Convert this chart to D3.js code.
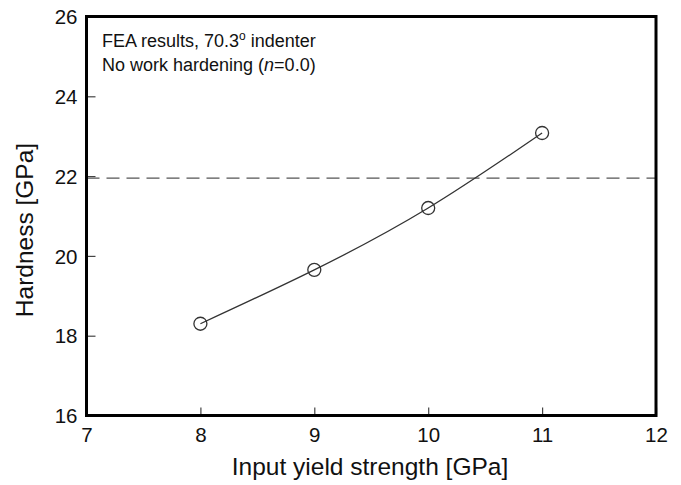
<!DOCTYPE html>
<html>
<head>
<meta charset="utf-8">
<script src="https://cdn.jsdelivr.net/npm/d3@7"></script>
<style>
  html, body { margin: 0; padding: 0; background: #fff; }
  svg { display: block; font-family: Arial, "Liberation Sans", sans-serif; }
</style>
</head>
<body>
<svg id="chart" width="681" height="485"></svg>
<script>
// Input yield strength (GPa) and FEA hardness (GPa)
const yieldStrength = [8, 9, 10, 11];
const hardness = [18.3, 19.65, 21.2, 23.08];
const referenceHardness = 21.95;

const xTicks = [7, 8, 9, 10, 11, 12];
const yTicks = [16, 18, 20, 22, 24, 26];

const W = 681, H = 485;
const plot = { left: 86.5, right: 656, top: 16.5, bottom: 415.5 };

const svg = d3.select("#chart");

const x = d3.scaleLinear().domain([7, 12]).range([plot.left, plot.right]);
const y = d3.scaleLinear().domain([16, 26]).range([plot.bottom, plot.top]);

// Inward ticks along bottom and left
const xAxis = svg.append("g")
  .attr("transform", `translate(0,${plot.bottom})`)
  .call(d3.axisBottom(x).tickValues(xTicks).tickSize(-8).tickPadding(12).tickFormat(d3.format("d")));
const yAxis = svg.append("g")
  .attr("transform", `translate(${plot.left},0)`)
  .call(d3.axisLeft(y).tickValues(yTicks).tickSize(-9).tickPadding(9).tickFormat(d3.format("d")));

[xAxis, yAxis].forEach(g => {
  g.select(".domain").remove();
  g.selectAll(".tick line").attr("stroke", "#444").attr("stroke-width", 1.2);
  g.selectAll(".tick text").attr("fill", "#111").style("font-size", "20.5px");
});
xAxis.selectAll(".tick text").attr("dy", "0.71em");
yAxis.selectAll(".tick text").attr("dy", "0.35em");

// Dashed reference level
svg.append("line")
  .attr("x1", plot.left).attr("x2", plot.right)
  .attr("y1", y(referenceHardness)).attr("y2", y(referenceHardness))
  .attr("stroke", "#555").attr("stroke-width", 1.3)
  .attr("stroke-dasharray", "13,7");

// Hardness curve
const pts = yieldStrength.map((v, i) => [v, hardness[i]]);
svg.append("path")
  .datum(pts)
  .attr("fill", "none")
  .attr("stroke", "#333")
  .attr("stroke-width", 1.3)
  .attr("d", d3.line().x(d => x(d[0])).y(d => y(d[1])).curve(d3.curveNatural));

svg.append("g").selectAll("circle")
  .data(pts)
  .join("circle")
  .attr("cx", d => x(d[0]))
  .attr("cy", d => y(d[1]))
  .attr("r", 6.5)
  .attr("fill", "none")
  .attr("stroke", "#333")
  .attr("stroke-width", 1.3);

// Frame
svg.append("rect")
  .attr("x", plot.left).attr("y", plot.top)
  .attr("width", plot.right - plot.left).attr("height", plot.bottom - plot.top)
  .attr("fill", "none").attr("stroke", "#000").attr("stroke-width", 3);

// Annotation
const note = svg.append("text")
  .attr("x", 102).attr("y", 47)
  .style("font-size", "18px").attr("fill", "#111");
note.append("tspan").text("FEA results, 70.3");
note.append("tspan").text("o").style("font-size", "12px").attr("dy", -7);
note.append("tspan").text(" indenter").attr("dy", 7);

const note2 = svg.append("text")
  .attr("x", 102).attr("y", 71)
  .style("font-size", "18px").attr("fill", "#111");
note2.append("tspan").text("No work hardening (");
note2.append("tspan").text("n").style("font-style", "italic");
note2.append("tspan").text("=0.0)");

// Axis titles
svg.append("text")
  .attr("x", 370)
  .attr("y", 475)
  .attr("text-anchor", "middle")
  .style("font-size", "24.5px").attr("fill", "#111")
  .text("Input yield strength [GPa]");

svg.append("text")
  .attr("transform", `translate(33,230) rotate(-90)`)
  .attr("text-anchor", "middle")
  .style("font-size", "24.5px").attr("fill", "#111")
  .text("Hardness [GPa]");
</script>
</body>
</html>
